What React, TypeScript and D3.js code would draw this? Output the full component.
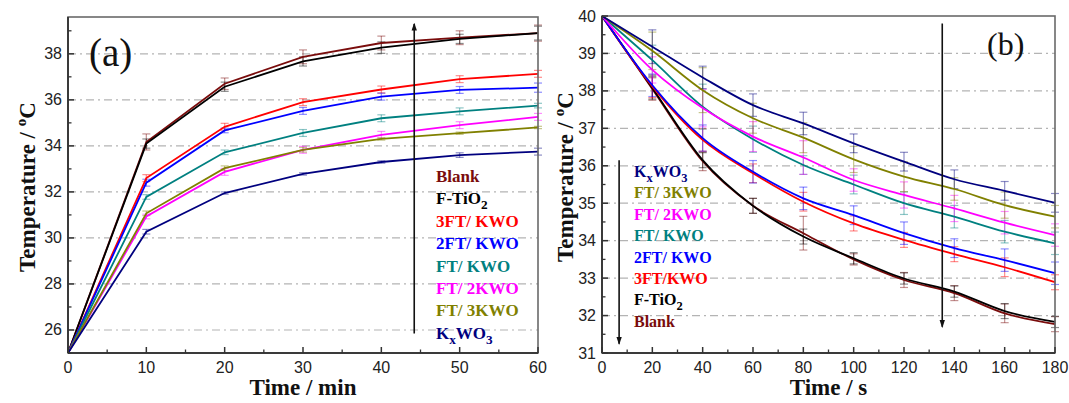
import React from 'react';
import * as d3 from 'd3';

// ---------- data ----------
const SERIES_NAMES_A = ['Blank', 'F-TiO_2', '3FT/ KWO', '2FT/ KWO', 'FT/ KWO', 'FT/ 2KWO', 'FT/ 3KWO', 'K_xWO_3'];
const SERIES_NAMES_B = ['Blank', 'F-TiO_2', '3FT/KWO', '2FT/ KWO', 'FT/ KWO', 'FT/ 2KWO', 'FT/ 3KWO', 'K_xWO_3'];
const SERIES_COLORS = ['#7a0c0c', '#000000', '#ff0000', '#0000ff', '#008080', '#ff00ff', '#808000', '#00007f'];

const TIME_A = [0, 10, 20, 30, 40, 50, 60];
const BLANK_A = [25, 34.17, 36.7, 37.87, 38.47, 38.7, 38.9];
const FTIO2_A = [25, 34.1, 36.57, 37.67, 38.27, 38.65, 38.9];
const FT3_KWO_A = [25, 32.6, 34.83, 35.9, 36.45, 36.9, 37.13];
const FT2_KWO_A = [25, 32.4, 34.67, 35.52, 36.14, 36.43, 36.53];
const FT_KWO_A = [25, 31.78, 33.72, 34.56, 35.2, 35.5, 35.75];
const FT_2KWO_A = [25, 30.93, 32.87, 33.83, 34.48, 34.9, 35.26];
const FT_3KWO_A = [25, 31.07, 33.03, 33.83, 34.3, 34.55, 34.8];
const KXWO3_A = [25, 30.27, 31.95, 32.78, 33.3, 33.6, 33.75];

const ERR_BLANK_A = [0, 0.35, 0.25, 0.3, 0.3, 0.3, 0.35];
const ERR_FTIO2_A = [0, 0.2, 0.2, 0.2, 0.25, 0.2, 0.3];
const ERR_FT3_KWO_A = [0, 0.15, 0.15, 0.15, 0.15, 0.15, 0.15];
const ERR_FT2_KWO_A = [0, 0.15, 0.1, 0.15, 0.15, 0.15, 0.2];
const ERR_FT_KWO_A = [0, 0.1, 0.1, 0.15, 0.15, 0.15, 0.1];
const ERR_FT_2KWO_A = [0, 0.1, 0.15, 0.15, 0.15, 0.15, 0.15];
const ERR_FT_3KWO_A = [0, 0.1, 0.1, 0.1, 0.05, 0.05, 0.05];
const ERR_KXWO3_A = [0, 0.1, 0.05, 0.05, 0.05, 0.1, 0.15];

const TIME_B = [0, 20, 40, 60, 80, 100, 120, 140, 160, 180];
const BLANK_B = [40, 38.05, 36.12, 34.93, 34.2, 33.5, 32.95, 32.6, 32.06, 31.77];
const FTIO2_B = [40, 38.08, 36.15, 34.93, 34.11, 33.53, 32.99, 32.64, 32.12, 31.83];
const FT3_KWO_B = [40, 38.12, 36.69, 35.8, 35.04, 34.46, 34.02, 33.64, 33.29, 32.89];
const FT2_KWO_B = [40, 38.15, 36.74, 35.84, 35.13, 34.68, 34.2, 33.8, 33.48, 33.13];
const FT_KWO_B = [40, 38.82, 37.58, 36.71, 36.02, 35.5, 35.0, 34.64, 34.24, 33.93];
const FT_2KWO_B = [40, 38.56, 37.54, 36.78, 36.22, 35.62, 35.22, 34.86, 34.48, 34.15];
const FT_3KWO_B = [40, 39.07, 38.02, 37.27, 36.75, 36.17, 35.71, 35.38, 34.95, 34.64];
const KXWO3_B = [40, 39.18, 38.36, 37.62, 37.13, 36.6, 36.11, 35.64, 35.33, 35.01];

const ERR_BLANK_B = [0, 0.3, 0.25, 0.2, 0.45, 0.15, 0.2, 0.2, 0.25, 0.2];
const ERR_FTIO2_B = [0, 0.3, 0.2, 0.2, 0.2, 0.15, 0.15, 0.15, 0.2, 0.15];
const ERR_FT3_KWO_B = [0, 0.3, 0.3, 0.25, 0.25, 0.2, 0.2, 0.2, 0.25, 0.2];
const ERR_FT2_KWO_B = [0, 0.3, 0.35, 0.3, 0.3, 0.25, 0.3, 0.25, 0.3, 0.3];
const ERR_FT_KWO_B = [0, 0.4, 0.6, 0.35, 0.25, 0.25, 0.3, 0.3, 0.3, 0.3];
const ERR_FT_2KWO_B = [0, 0.35, 0.5, 0.4, 0.45, 0.3, 0.35, 0.35, 0.3, 0.3];
const ERR_FT_3KWO_B = [0, 0.5, 0.6, 0.4, 0.4, 0.35, 0.4, 0.3, 0.35, 0.3];
const ERR_KXWO3_B = [0, 0.45, 0.3, 0.3, 0.3, 0.25, 0.25, 0.25, 0.25, 0.25];

const X_TICKS_A = [0, 10, 20, 30, 40, 50, 60];
const Y_TICKS_A = [26, 28, 30, 32, 34, 36, 38];
const X_TICKS_B = [0, 20, 40, 60, 80, 100, 120, 140, 160, 180];
const Y_TICKS_B = [31, 32, 33, 34, 35, 36, 37, 38, 39, 40];

const VALUES_A = [BLANK_A, FTIO2_A, FT3_KWO_A, FT2_KWO_A, FT_KWO_A, FT_2KWO_A, FT_3KWO_A, KXWO3_A];
const ERRS_A = [ERR_BLANK_A, ERR_FTIO2_A, ERR_FT3_KWO_A, ERR_FT2_KWO_A, ERR_FT_KWO_A, ERR_FT_2KWO_A, ERR_FT_3KWO_A, ERR_KXWO3_A];
const VALUES_B = [BLANK_B, FTIO2_B, FT3_KWO_B, FT2_KWO_B, FT_KWO_B, FT_2KWO_B, FT_3KWO_B, KXWO3_B];
const ERRS_B = [ERR_BLANK_B, ERR_FTIO2_B, ERR_FT3_KWO_B, ERR_FT2_KWO_B, ERR_FT_KWO_B, ERR_FT_2KWO_B, ERR_FT_3KWO_B, ERR_KXWO3_B];

const SERIF = '"Liberation Serif", "Times New Roman", serif';
const SANS = '"Liberation Sans", Arial, sans-serif';

function RichLabel({ text }: { text: string }) {
  // '_' marks the next char as subscript
  const parts: { t: string; sub: boolean }[] = [];
  let i = 0;
  while (i < text.length) {
    if (text[i] === '_') {
      parts.push({ t: text[i + 1], sub: true });
      i += 2;
    } else {
      let j = i;
      while (j < text.length && text[j] !== '_') j++;
      parts.push({ t: text.slice(i, j), sub: false });
      i = j;
    }
  }
  let shift = 0;
  return (
    <>
      {parts.map((p, k) => {
        const target = p.sub ? 5 : 0;
        const dy = target - shift;
        shift = target;
        return (
          <tspan key={k} dy={dy} fontSize={p.sub ? '0.78em' : undefined}>
            {p.t}
          </tspan>
        );
      })}
    </>
  );
}

type PanelProps = {
  id: string;
  left: number; right: number; top: number; bottom: number;
  xDomain: [number, number]; yDomain: [number, number];
  xTicks: number[]; yTicks: number[]; xMinor: number; yMinor: number;
  grid: number[];
  times: number[]; values: number[][]; errs: number[][]; names: string[];
  curve: any;
  xLabel: string; yLabelX: number; yLabelY: number;
  tag: string; tagX: number; tagY: number; tagSize: number;
  legendX: number; legendY0: number; legendStep: number; legendSize: number; legendOrder: number[];
  arrows: { x: number; y1: number; y2: number }[];
};

function Panel(p: PanelProps) {
  const x = d3.scaleLinear().domain(p.xDomain).range([p.left, p.right]);
  const y = d3.scaleLinear().domain(p.yDomain).range([p.bottom, p.top]);
  const line = d3.line<number>().x((_, i) => x(p.times[i])).y((d) => y(d)).curve(p.curve);
  const xMinorTicks = d3.range(p.xDomain[0], p.xDomain[1] + 1e-9, p.xMinor).filter((v) => !p.xTicks.some((t) => Math.abs(t - v) < 1e-6));
  const yMinorTicks = d3.range(Math.ceil(p.yDomain[0] / p.yMinor) * p.yMinor, p.yDomain[1] + 1e-9, p.yMinor).filter((v) => !p.yTicks.some((t) => Math.abs(t - v) < 1e-6));
  return (
    <g>
      {/* grid */}
      {p.grid.map((g) => (
        <line key={'g' + g} x1={p.left} x2={p.right} y1={y(g)} y2={y(g)} stroke="#b4b4b4" strokeWidth={1.2} strokeDasharray="8 4 2 4" />
      ))}
      {/* error bars */}
      {p.values.map((vals, si) => (
        <g key={'e' + si} stroke={SERIES_COLORS[si]} strokeOpacity={0.45} strokeWidth={1.2}>
          {vals.map((v, i) => {
            const e = p.errs[si][i];
            if (!e) return null;
            const cx = x(p.times[i]);
            return (
              <g key={i}>
                <line x1={cx} x2={cx} y1={y(v - e)} y2={y(v + e)} />
                <line x1={cx - 4} x2={cx + 4} y1={y(v - e)} y2={y(v - e)} />
                <line x1={cx - 4} x2={cx + 4} y1={y(v + e)} y2={y(v + e)} />
              </g>
            );
          })}
        </g>
      ))}
      {/* lines */}
      {p.values.map((vals, si) => (
        <path key={'l' + si} d={line(vals) || ''} fill="none" stroke={SERIES_COLORS[si]} strokeWidth={1.8} />
      ))}
      {/* frame */}
      <rect x={p.left} y={p.top} width={p.right - p.left} height={p.bottom - p.top} fill="none" stroke="#6a6a6a" strokeWidth={1.6} />
      <line x1={p.left} x2={p.left} y1={p.top} y2={p.bottom} stroke="#3a3a3a" strokeWidth={2} />
      <line x1={p.left} x2={p.right} y1={p.bottom} y2={p.bottom} stroke="#3a3a3a" strokeWidth={2} />
      {/* ticks */}
      {p.xTicks.map((t) => (
        <g key={'xt' + t}>
          <line x1={x(t)} x2={x(t)} y1={p.bottom} y2={p.bottom - 6} stroke="#333" strokeWidth={1.5} />
          <text x={x(t)} y={373} textAnchor="middle" fontFamily={SANS} fontSize={16} fill="#222">{t}</text>
        </g>
      ))}
      {xMinorTicks.map((t) => (
        <line key={'xm' + t} x1={x(t)} x2={x(t)} y1={p.bottom} y2={p.bottom - 3.5} stroke="#333" strokeWidth={1.3} />
      ))}
      {p.yTicks.map((t) => (
        <g key={'yt' + t}>
          <line x1={p.left} x2={p.left + 6} y1={y(t)} y2={y(t)} stroke="#333" strokeWidth={1.5} />
          <text x={p.left - 6} y={y(t) + 5.5} textAnchor="end" fontFamily={SANS} fontSize={16} fill="#222">{t}</text>
        </g>
      ))}
      {yMinorTicks.map((t) => (
        <line key={'ym' + t} x1={p.left} x2={p.left + 3.5} y1={y(t)} y2={y(t)} stroke="#333" strokeWidth={1.3} />
      ))}
      {/* axis labels */}
      <text x={(p.left + p.right) / 2} y={395} textAnchor="middle" fontFamily={SERIF} fontWeight="bold" fontSize={23} fill="#111">{p.xLabel}</text>
      <text transform={`translate(${p.yLabelX},${p.yLabelY}) rotate(-90)`} textAnchor="middle" fontFamily={SERIF} fontWeight="bold" fontSize={23} fill="#111">
        Temperature / <tspan dy={-9} fontSize={15}>o</tspan><tspan dy={9}>C</tspan>
      </text>
      {/* tag */}
      <text x={p.tagX} y={p.tagY} fontFamily={SERIF} fontSize={p.tagSize} fill="#111">{p.tag}</text>
      {/* arrows */}
      {p.arrows.map((a, i) => (
        <line key={'a' + i} x1={x(a.x)} x2={x(a.x)} y1={y(a.y1)} y2={y(a.y2)} stroke="#111" strokeWidth={1.6} markerEnd={`url(#arrow-${p.id})`} />
      ))}
      {/* legend */}
      {p.legendOrder.map((si, k) => (
        <text key={'lg' + si} x={p.legendX} y={p.legendY0 + k * p.legendStep} fontFamily={SERIF} fontWeight="bold" fontSize={p.legendSize} fill={SERIES_COLORS[si]}>
          <RichLabel text={p.names[si]} />
        </text>
      ))}
    </g>
  );
}

export default function App() {
  return (
    <svg width={1069} height={403} style={{ position: 'absolute', left: 0, top: 0, background: '#fff' }}>
      <defs>
        {['a', 'b'].map((id) => (
          <marker key={id} id={`arrow-${id}`} markerUnits="userSpaceOnUse" markerWidth={8} markerHeight={14} refX={10} refY={4} orient="auto" viewBox="0 0 12 8">
            <path d="M0,0 L12,4 L0,8 Z" fill="#111" />
          </marker>
        ))}
      </defs>
      <rect width={1069} height={403} fill="#fff" />
      <Panel
        id="a"
        left={68} right={538} top={17} bottom={353}
        xDomain={[0, 60]} yDomain={[25, 39.6]}
        xTicks={X_TICKS_A} yTicks={Y_TICKS_A} xMinor={5} yMinor={1}
        grid={Y_TICKS_A}
        times={TIME_A} values={VALUES_A} errs={ERRS_A} names={SERIES_NAMES_A}
        curve={d3.curveLinear}
        xLabel="Time / min" yLabelX={35} yLabelY={187}
        tag="(a)" tagX={89} tagY={66} tagSize={39}
        legendX={436} legendY0={182} legendStep={22.4} legendSize={17} legendOrder={[0, 1, 2, 3, 4, 5, 6, 7]}
        arrows={[{ x: 44.2, y1: 25.85, y2: 39.3 }]}
      />
      <Panel
        id="b"
        left={602} right={1055} top={16} bottom={353}
        xDomain={[0, 180]} yDomain={[31, 40]}
        xTicks={X_TICKS_B} yTicks={Y_TICKS_B} xMinor={10} yMinor={0.5}
        grid={Y_TICKS_B.filter((v) => v > 31 && v < 40)}
        times={TIME_B} values={VALUES_B} errs={ERRS_B} names={SERIES_NAMES_B}
        curve={d3.curveMonotoneX}
        xLabel="Time / s" yLabelX={573} yLabelY={177}
        tag="(b)" tagX={987} tagY={55} tagSize={32}
        legendX={634} legendY0={177} legendStep={21.4} legendSize={16} legendOrder={[7, 6, 5, 4, 3, 2, 1, 0]}
        arrows={[{ x: 6.8, y1: 36.15, y2: 31.25 }, { x: 135.2, y1: 39.8, y2: 31.7 }]}
      />
    </svg>
  );
}
